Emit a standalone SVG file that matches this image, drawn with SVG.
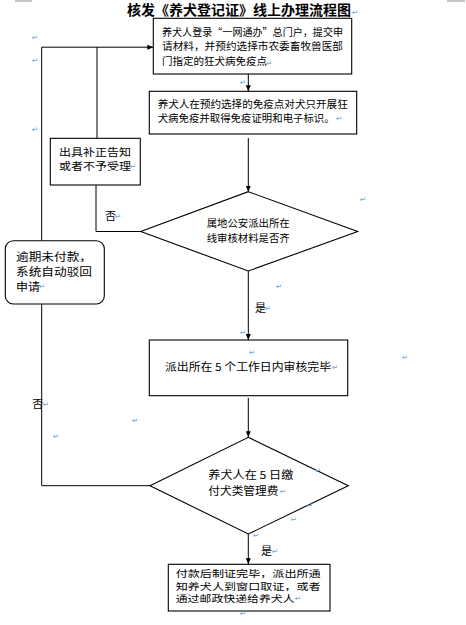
<svg xmlns="http://www.w3.org/2000/svg" width="466" height="625" viewBox="0 0 466 625">
<defs>
<marker id="arr" markerUnits="userSpaceOnUse" markerWidth="7" markerHeight="6" refX="6" refY="3" orient="auto">
<path d="M0,0.5 L6,3 L0,5.5 z" fill="#000"/>
</marker>
<style>
.box{fill:#fff;stroke:#000;stroke-width:1.1}
.ln{fill:none;stroke:#000;stroke-width:1}
.t{font-family:"Noto Sans CJK SC","Liberation Serif",serif;fill:#000;font-size:10.5px}
.m{font-family:"DejaVu Sans",sans-serif;fill:#6fa8e0;font-size:7.5px;text-anchor:middle}
.crop{fill:#c8c8c8}
</style>
</defs>
<rect width="466" height="625" fill="#fff"/>
<rect class="crop" x="15" y="0" width="17" height="2"/>
<rect class="crop" x="447" y="0" width="18" height="2"/>
<text id="title" class="t" x="127" y="14.5" style="font-size:13.5px;font-weight:bold" textLength="224" lengthAdjust="spacingAndGlyphs">核发《养犬登记证》线上办理流程图</text>

<g id="connectors">
<line class="ln" x1="248.3" y1="74" x2="248.3" y2="91.3" marker-end="url(#arr)"/>
<line class="ln" x1="248.3" y1="138" x2="248.3" y2="191.7" marker-end="url(#arr)"/>
<line class="ln" x1="248.3" y1="271" x2="248.3" y2="340" marker-end="url(#arr)"/>
<line class="ln" x1="248.3" y1="398" x2="248.3" y2="437.3" marker-end="url(#arr)"/>
<line class="ln" x1="248.3" y1="534" x2="248.3" y2="564.3" marker-end="url(#arr)"/>
<polyline class="ln" points="140.7,231.5 96,231.5 96,185"/>
<line class="ln" x1="97" y1="138.3" x2="97" y2="47.2"/>
<polyline class="ln" points="41.7,240.7 41.7,47.2 153.3,47.2" marker-end="url(#arr)"/>
<polyline class="ln" points="150,485.7 41.7,485.7 41.7,304"/>
</g>

<g id="n1">
<rect class="box" x="153.3" y="18.3" width="198.4" height="55.7"/>
<text class="t" x="162" y="35.5" textLength="181" lengthAdjust="spacingAndGlyphs">养犬人登录“一网通办”总门户，提交申</text>
<text class="t" x="162" y="50" textLength="181" lengthAdjust="spacingAndGlyphs">请材料，并预约选择市农委畜牧兽医部</text>
<text class="t" x="162" y="64.5">门指定的狂犬病免疫点</text>
</g>
<g id="n2">
<rect class="box" x="149.3" y="91.3" width="207.4" height="42.7"/>
<text class="t" x="157.7" y="107.8" textLength="190" lengthAdjust="spacingAndGlyphs">养犬人在预约选择的免疫点对犬只开展狂</text>
<text class="t" x="157.7" y="122" textLength="177" lengthAdjust="spacingAndGlyphs">犬病免疫并取得免疫证明和电子标识。</text>
</g>
<g id="n3">
<rect class="box" x="50.3" y="138.3" width="90" height="46.7"/>
<text class="t" x="59" y="155.5" textLength="72" lengthAdjust="spacingAndGlyphs">出具补正告知</text>
<text class="t" x="59" y="170" textLength="72" lengthAdjust="spacingAndGlyphs">或者不予受理</text>
</g>
<g id="n4">
<polygon class="box" points="248.3,191.7 357.7,231.5 248.3,271 140.7,231.5"/>
<text class="t" x="206.7" y="227" textLength="83" lengthAdjust="spacingAndGlyphs">属地公安派出所在</text>
<text class="t" x="206.7" y="242" textLength="83" lengthAdjust="spacingAndGlyphs">线审核材料是否齐</text>
</g>
<g id="n5">
<rect class="box" x="5.3" y="240.7" width="99" height="63.3" rx="8" ry="8"/>
<text class="t" x="16" y="261" style="font-size:11px" textLength="76" lengthAdjust="spacingAndGlyphs">逾期未付款，</text>
<text class="t" x="16" y="276" style="font-size:11px" textLength="76" lengthAdjust="spacingAndGlyphs">系统自动驳回</text>
<text class="t" x="16" y="290.5" style="font-size:11px" textLength="24" lengthAdjust="spacingAndGlyphs">申请</text>
</g>
<g id="n6">
<rect class="box" x="149.3" y="340" width="198.4" height="55.7"/>
<text class="t" x="165" y="370.5" style="font-size:11px" textLength="166" lengthAdjust="spacingAndGlyphs">派出所在 5 个工作日内审核完毕</text>
</g>
<g id="n7">
<polygon class="box" points="248.3,437.3 348.3,485.7 248.3,534 150,485.7"/>
<text class="t" x="208.3" y="479" style="font-size:11px" textLength="85" lengthAdjust="spacingAndGlyphs">养犬人在 5 日缴</text>
<text class="t" x="208.3" y="495" style="font-size:11px" textLength="70" lengthAdjust="spacingAndGlyphs">付犬类管理费</text>
</g>
<g id="n8">
<rect class="box" x="168.3" y="564.3" width="161.7" height="46.7"/>
<text class="t" x="175.7" y="577" style="font-size:9.5px" textLength="145" lengthAdjust="spacingAndGlyphs">付款后制证完毕，派出所通</text>
<text class="t" x="175.7" y="589.5" style="font-size:9.5px" textLength="145" lengthAdjust="spacingAndGlyphs">知养犬人到窗口取证，或者</text>
<text class="t" x="175.7" y="602" style="font-size:9.5px" textLength="119" lengthAdjust="spacingAndGlyphs">通过邮政快递给养犬人</text>
</g>

<g id="labels">
<text class="t" x="105" y="219.5" style="font-size:11px">否</text>
<text class="t" x="255" y="312" style="font-size:11px">是</text>
<text class="t" x="32.3" y="408" style="font-size:11px">否</text>
<text class="t" x="261" y="555" style="font-size:11px">是</text>
</g>

<g id="marks">
<text class="m" x="355" y="15">↵</text>
<text class="m" x="35" y="40">↵</text>
<text class="m" x="35" y="63">↵</text>
<text class="m" x="269" y="66">↵</text>
<text class="m" x="243" y="85">↵</text>
<text class="m" x="339" y="121">↵</text>
<text class="m" x="35" y="132">↵</text>
<text class="m" x="133" y="169">↵</text>
<text class="m" x="363" y="202">↵</text>
<text class="m" x="118" y="219">↵</text>
<text class="m" x="279" y="289">↵</text>
<text class="m" x="42" y="289">↵</text>
<text class="m" x="268" y="311">↵</text>
<text class="m" x="243" y="335">↵</text>
<text class="m" x="252" y="355">↵</text>
<text class="m" x="335" y="370">↵</text>
<text class="m" x="405" y="360">↵</text>
<text class="m" x="46" y="407">↵</text>
<text class="m" x="135" y="423">↵</text>
<text class="m" x="56" y="439">↵</text>
<text class="m" x="318" y="473">↵</text>
<text class="m" x="283" y="494">↵</text>
<text class="m" x="310" y="508">↵</text>
<text class="m" x="294" y="522">↵</text>
<text class="m" x="256" y="538">↵</text>
<text class="m" x="275" y="554">↵</text>
<text class="m" x="298" y="601">↵</text>
<text class="m" x="243" y="616">↵</text>
</g>
</svg>
